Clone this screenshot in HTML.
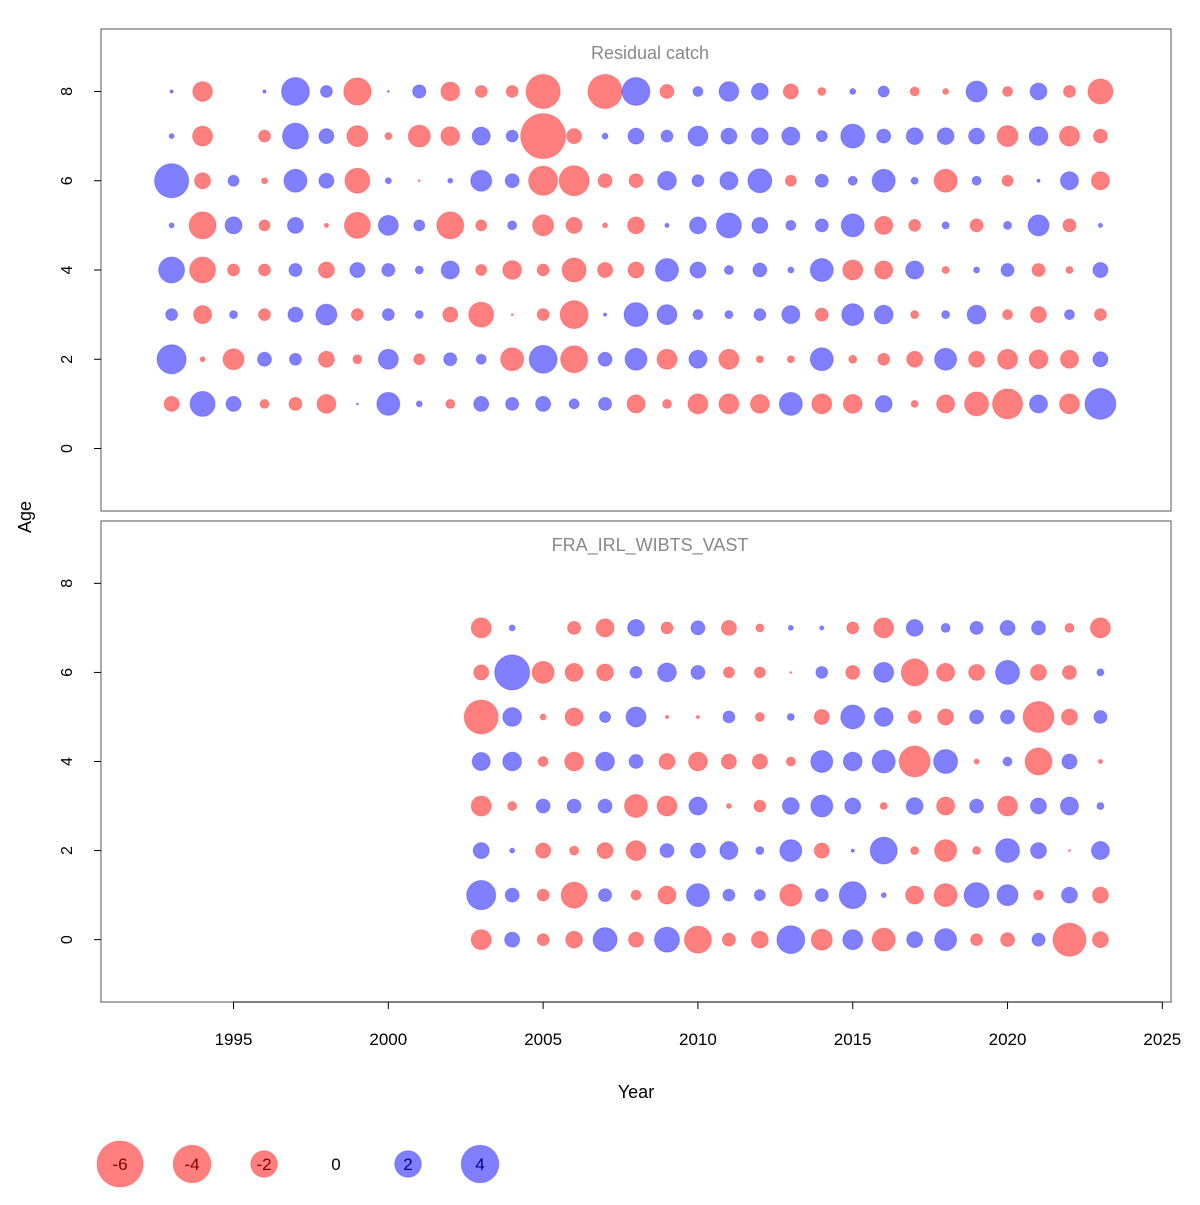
<!DOCTYPE html>
<html><head><meta charset="utf-8"><style>
body{margin:0;background:#fff}
svg text{font-family:"Liberation Sans",sans-serif}
</style></head><body>
<svg id="c" width="1200" height="1200" viewBox="0 0 1200 1200"></svg>
<script>
const catchYears=[1993,1994,1995,1996,1997,1998,1999,2000,2001,2002,2003,2004,2005,2006,2007,2008,2009,2010,2011,2012,2013,2014,2015,2016,2017,2018,2019,2020,2021,2022,2023];
const catchAges=[1,2,3,4,5,6,7,8];
const catchAge1=[-0.64,1.77,0.64,-0.23,-0.48,-1.0,0.01,1.5,0.1,-0.23,0.64,0.48,0.64,0.28,0.48,-0.92,-0.23,-1.13,-1.13,-1.0,1.5,-1.13,-1.0,0.8,-0.14,-0.92,-1.63,-2.55,0.92,-1.13,2.7];
const catchAge2=[2.4,-0.07,-1.25,0.55,0.4,-0.72,-0.23,1.13,-0.34,0.48,0.28,-1.5,2.2,-2.06,0.55,1.37,-1.13,0.92,-1.13,-0.14,-0.14,1.5,-0.18,-0.4,-0.72,1.37,-0.72,-1.13,-1.0,-0.92,0.64];
const catchAge3=[0.4,-0.92,0.18,-0.4,0.64,1.25,-0.4,0.4,0.18,-0.64,-1.77,-0.01,-0.4,-2.2,0.03,1.63,1.13,0.28,0.18,0.4,0.92,-0.48,1.37,1.0,-0.18,0.18,1.0,-0.28,-0.72,0.28,-0.4];
const catchAge4=[1.9,-1.9,-0.4,-0.4,0.48,-0.72,0.64,0.48,0.18,0.92,-0.34,-1.0,-0.4,-1.63,-0.64,-0.72,1.5,0.72,0.23,0.55,0.1,1.5,-1.13,-0.92,0.92,-0.14,0.1,0.48,-0.48,-0.14,0.64];
const catchAge5=[0.07,-2.06,0.82,-0.34,0.72,-0.05,-1.9,1.13,0.34,-2.06,-0.34,0.23,-1.25,-0.72,-0.07,-0.8,0.05,0.8,1.77,0.72,0.28,0.48,1.5,-0.92,-0.4,0.14,-0.48,0.18,1.25,-0.48,0.05];
const catchAge6=[3.3,-0.72,0.34,-0.1,1.5,0.64,-1.77,0.1,-0.01,0.07,1.25,0.55,-2.4,-2.55,-0.55,-0.55,1.0,0.4,0.92,1.63,-0.34,0.48,0.23,1.5,0.14,-1.5,0.23,-0.34,0.03,0.92,-0.92];
const catchAge7=[0.07,-1.13,0,-0.4,1.9,0.64,-1.25,-0.14,-1.37,-1.0,0.92,0.4,-5.7,-0.64,0.1,0.72,0.4,1.13,0.72,0.8,0.92,0.34,1.63,0.55,0.8,0.8,0.72,-1.25,1.0,-1.13,-0.55];
const catchAge8=[0.03,-1.1,0,0.03,2.2,0.4,-2.1,0.01,0.5,-1.0,-0.4,-0.4,-3.3,0,-3.3,2.2,-0.55,0.28,1.1,0.8,-0.64,-0.18,0.1,0.34,-0.23,-0.1,1.25,-0.28,0.8,-0.4,-1.77];
const surveyYears=[2003,2004,2005,2006,2007,2008,2009,2010,2011,2012,2013,2014,2015,2016,2017,2018,2019,2020,2021,2022,2023];
const surveyAges=[0,1,2,3,4,5,6,7];
const surveyAge0=[-1.13,0.64,-0.4,-0.8,1.63,-0.64,1.77,-2.06,-0.48,-0.8,2.2,-1.25,1.13,-1.5,0.72,1.37,-0.4,-0.55,0.48,-3.1,-0.72];
const surveyAge1=[2.4,0.55,-0.4,-1.9,0.48,-0.28,-0.92,1.5,0.4,0.34,-1.37,0.48,2.06,0.07,-0.92,-1.5,1.77,1.25,-0.28,0.72,-0.72];
const surveyAge2=[0.72,0.07,-0.64,-0.23,-0.72,-1.13,0.55,0.64,0.92,0.18,1.37,-0.64,0.03,2.06,-0.18,-1.37,-0.18,1.63,0.72,-0.01,0.92];
const surveyAge3=[-1.13,-0.23,0.55,0.55,0.55,-1.5,-1.13,0.92,-0.07,-0.4,0.8,1.37,0.72,-0.14,0.8,-0.92,0.55,-1.13,0.72,0.92,0.14];
const surveyAge4=[0.92,1.0,-0.28,-1.0,1.0,0.55,-0.72,-1.0,-0.64,-0.64,-0.23,1.37,1.0,1.5,-2.7,1.63,-0.07,0.23,-2.06,0.64,-0.05];
const surveyAge5=[-3.27,1.0,-0.1,-0.92,0.34,1.13,-0.03,-0.03,0.4,-0.23,0.14,-0.64,1.63,1.0,-0.48,-0.72,0.55,0.55,-2.7,-0.72,0.48];
const surveyAge6=[-0.64,3.47,-1.37,-0.92,-0.8,0.4,1.0,0.55,-0.34,-0.34,-0.01,0.4,-0.55,1.13,-2.06,-0.92,-0.72,1.63,-0.72,-0.55,0.14];
const surveyAge7=[-1.13,0.1,0,-0.48,-0.92,0.8,-0.4,0.55,-0.64,-0.18,0.07,0.05,-0.4,-1.13,0.8,0.23,0.48,0.64,0.55,-0.23,-1.13];
const legendValues=[-6,-4,-2,0,2,4];
const xTicks=[1995,2000,2005,2010,2015,2020,2025];
const yTicks=[0,2,4,6,8];

const NS='http://www.w3.org/2000/svg';
const svg=document.getElementById('c');
function mk(tag,attrs,parent){const e=document.createElementNS(NS,tag);for(const k in attrs)e.setAttribute(k,attrs[k]);(parent||svg).appendChild(e);return e;}
const X0=101,X1=1171,xmin=1990.72,xmax=2025.28;
const xs=v=>X0+(v-xmin)/(xmax-xmin)*(X1-X0);
const rs=v=>9.4*Math.sqrt(Math.abs(v));
function panel(top,bottom,title,ages,rows,years,name){
  const ys=v=>bottom-(v+1.4)/10.8*(bottom-top);
  const g=mk('g',{});
  
  
  const box=mk('rect',{x:X0,y:top,width:X1-X0,height:bottom-top,fill:'none',stroke:'#555','stroke-width':1},g);
  
  
  const t=mk('text',{x:650,y:top+30,'text-anchor':'middle','font-size':18,fill:'#888'},g);
  t.textContent=title;
  
  
  yTicks.forEach(v=>{
    const y=ys(v);
    const tk=mk('line',{x1:X0,x2:X0-7,y1:y,y2:y,stroke:'#000'},g);
    
    
    const l=mk('text',{x:72,y:y,'text-anchor':'middle','font-size':16,transform:`rotate(-90 72 ${y})`},g);
    l.textContent=v;
    
    
  });
  ages.forEach((a,i)=>{
    rows[i].forEach((v,j)=>{
      if(v===0)return;
      const c=mk('circle',{cx:xs(years[j]),cy:ys(a),r:rs(v),fill:v<0?'rgba(255,0,0,0.5)':'rgba(0,0,255,0.5)',stroke:v<0?'rgba(255,0,0,0.25)':'rgba(0,0,255,0.25)','stroke-width':1},g);
      
      
    });
  });
}
panel(29,511,'Residual catch',catchAges,[catchAge1,catchAge2,catchAge3,catchAge4,catchAge5,catchAge6,catchAge7,catchAge8],catchYears,'catch-panel');
panel(521,1002,'FRA_IRL_WIBTS_VAST',surveyAges,[surveyAge0,surveyAge1,surveyAge2,surveyAge3,surveyAge4,surveyAge5,surveyAge6,surveyAge7],surveyYears,'survey-panel');
const axl=mk('line',{x1:xs(1995),x2:xs(2025),y1:1002,y2:1002,stroke:'#000'});


xTicks.forEach(v=>{
  const tk=mk('line',{x1:xs(v),x2:xs(v),y1:1002,y2:1009,stroke:'#000'});
  
  
  const l=mk('text',{x:xs(v),y:1045,'text-anchor':'middle','font-size':17});
  l.textContent=v;
  
  
});
const xt=mk('text',{x:636,y:1098,'text-anchor':'middle','font-size':18});
xt.textContent='Year';


const yt=mk('text',{x:31,y:517,'text-anchor':'middle','font-size':18,transform:'rotate(-90 31 517)'});
yt.textContent='Age';


legendValues.forEach((v,i)=>{
  const cx=120+i*72,cy=1164;
  if(v!==0){
    const c=mk('circle',{cx:cx,cy:cy,r:rs(v),fill:v<0?'rgba(255,0,0,0.5)':'rgba(0,0,255,0.5)',stroke:v<0?'rgba(255,0,0,0.25)':'rgba(0,0,255,0.25)'});
    
    
  }
  const t=mk('text',{x:cx,y:cy+6,'text-anchor':'middle','font-size':17,fill:v<0?'#800000':(v>0?'#000080':'#000')});
  t.textContent=v;
  
  
});
</script>
</body></html>
